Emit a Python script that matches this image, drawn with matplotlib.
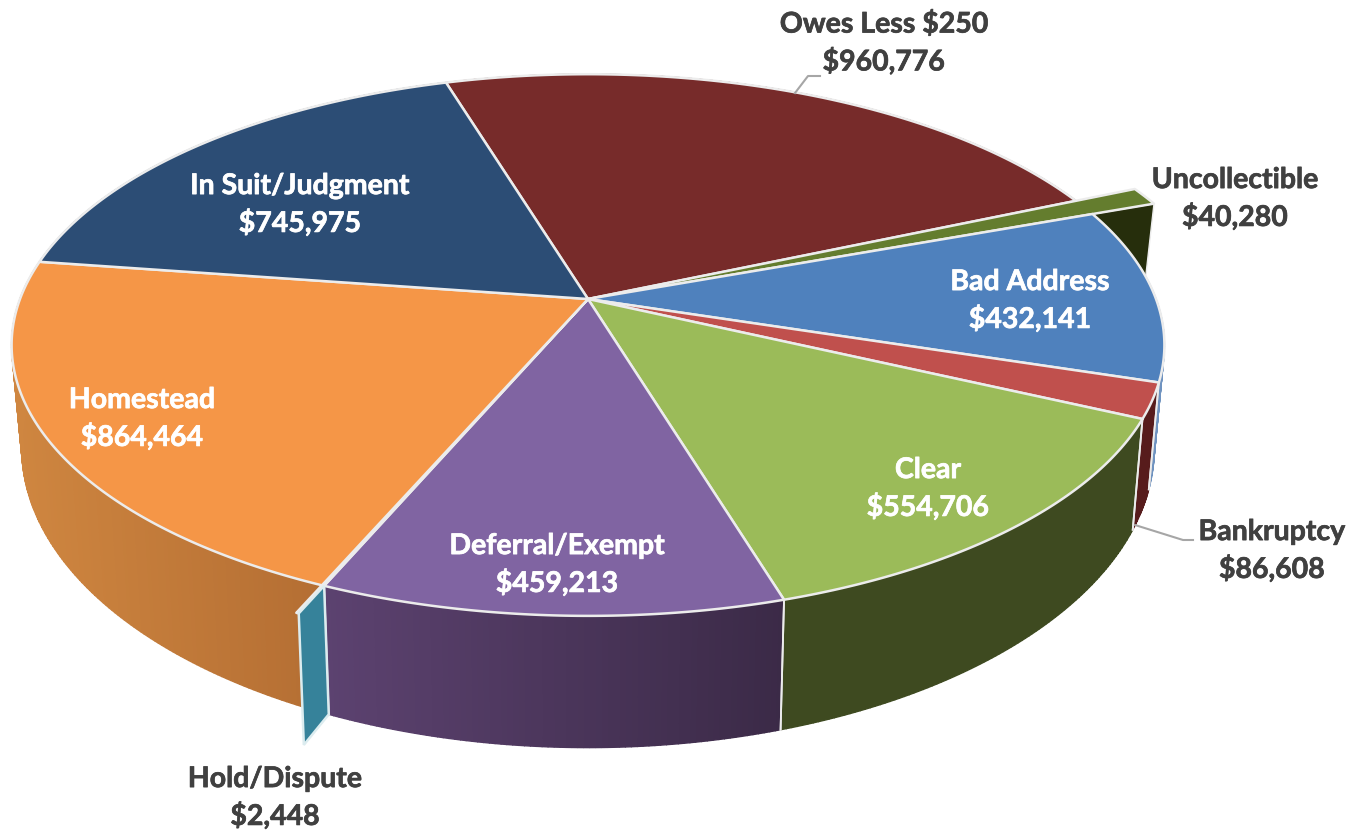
import numpy as np
import matplotlib
matplotlib.use('Agg')
import matplotlib.pyplot as plt
import matplotlib.patheffects as pe

names = ['Owes Less $250', 'Uncollectible', 'Bad Address', 'Bankruptcy', 'Clear',
         'Deferral/Exempt', 'Hold/Dispute', 'Homestead', 'In Suit/Judgment']
values = [960776, 40280, 432141, 86608, 554706, 459213, 2448, 864464, 745975]
pulled = [1, 1.13, 1, 1, 1, 1, 1.08, 1, 1]

top_colors = ['#772b2a', '#647d2e', '#4f81bd', '#c0504d', '#9bbb59',
              '#8064a2', '#36829a', '#f59647', '#2c4d75']
wall_left = ['#5a1e1e', '#2a3010', '#6f93c0', '#571c1c', '#3e4a20',
             '#5c4270', '#36829a', '#cf8640', '#1f3654']
wall_right = ['#5a1e1e', '#2a3010', '#6f93c0', '#571c1c', '#3e4a20',
              '#3b2a47', '#36829a', '#b46e33', '#1f3654']
text_colors = ['#404040', '#404040', 'white', '#404040', 'white',
               'white', '#404040', 'white', 'white']
label_pos = [(884, 43), (1235, 199), (1030, 301), (1272, 551), (928, 489),
             (557, 565), (275, 798), (142, 419), (300, 205)]

START = -16.9   # degrees clockwise from the back of the pie
EDGE = '#ececec'

# perspective of the two discs
K = 0.17
TOP = dict(x0=588, y0=299, a=568, b=263)
BOTTOM = dict(x0=588, y0=397, a=558, b=291)


def project(deg, r, disc):
    t = np.radians(deg)
    X = r * np.sin(t)
    Y = r * np.cos(t)
    d = 1 + K * Y
    return disc['x0'] + disc['a'] * X / d, disc['y0'] - disc['b'] * Y / d


def mix(c1, c2, f):
    c1 = np.array(matplotlib.colors.to_rgb(c1))
    c2 = np.array(matplotlib.colors.to_rgb(c2))
    return c1 + (c2 - c1) * f


fig = plt.figure(figsize=(13.57, 8.31), dpi=100)
ax = fig.add_axes([0, 0, 1, 1])
ax.set_xlim(0, 1357)
ax.set_ylim(831, 0)
ax.axis('off')
plt.rcParams['font.family'] = ['Lato', 'DejaVu Sans']

sweep = np.array(values) / sum(values) * 360
ends = START + np.cumsum(sweep)
starts = ends - sweep

# cut face of the pulled out sliver at the back, it sits behind everything
tx, ty = project(ends[1], np.array([0.95, 1.13]), TOP)
bx, by = project(ends[1], np.array([1.13, 0.95]), BOTTOM)
ax.fill(np.r_[tx, bx], np.r_[ty, by], color='#262e0c', ec=EDGE, lw=1, zorder=1)

# outer walls, the top covers whatever is at the back
for i in range(len(values)):
    if pulled[i] != 1:
        continue
    steps = max(int(sweep[i] * 2), 2)
    a = np.linspace(starts[i], ends[i], steps + 1)
    xs = project(a, 1, TOP)[0]
    for j in range(steps):
        seg = np.linspace(a[j], a[j + 1], 3)
        tx, ty = project(seg, 1, TOP)
        bx, by = project(seg[::-1], 1, BOTTOM)
        # the shading runs left to right on screen
        f = (tx.mean() - xs.min()) / (xs.max() - xs.min())
        col = mix(wall_left[i], wall_right[i], f)
        ax.fill(np.r_[tx, bx], np.r_[ty, by], color=col, lw=1.0, zorder=2)
    for ang in (starts[i], ends[i]):
        x1, y1 = project(ang, 1, TOP)
        x2, y2 = project(ang, 1, BOTTOM)
        if 90 < ang % 360 < 270:
            ax.plot([x1, x2], [y1, y2], color=EDGE, lw=1.3, zorder=3)

# top surfaces
for i in range(len(values)):
    arc = np.linspace(starts[i], ends[i], max(int(sweep[i] * 2), 2) + 1)
    ax_, ay_ = project(arc, pulled[i], TOP)
    x = np.r_[TOP['x0'], ax_]
    y = np.r_[TOP['y0'], ay_]
    ax.fill(x, y, facecolor=top_colors[i], edgecolor=EDGE, lw=1.8,
            joinstyle='round', zorder=4)

# cut face of the small slice at the front
tx, ty = project(starts[6], np.array([1, 1.08]), TOP)
bx, by = project(starts[6], np.array([1.08, 1]), BOTTOM)
ax.fill(np.r_[tx, bx], np.r_[ty, by], facecolor=top_colors[6], edgecolor='#dcecef',
        lw=1.8, zorder=5)

# leader lines
ax.plot([795, 808, 820], [93, 76, 76], color='#a6a6a6', lw=1.5, zorder=6)
ax.plot([1135, 1183, 1193], [525, 540, 540], color='#a6a6a6', lw=1.5, zorder=6)

for i in range(len(names)):
    t = ax.text(label_pos[i][0], label_pos[i][1], f'{names[i]}\n${values[i]:,}',
                color=text_colors[i], fontsize=20.5, fontweight='bold', ha='center',
                va='center', linespacing=1.42, zorder=7)
    t.set_path_effects([pe.withStroke(linewidth=0.5, foreground=text_colors[i])])

fig.savefig('out.png', dpi=100)
